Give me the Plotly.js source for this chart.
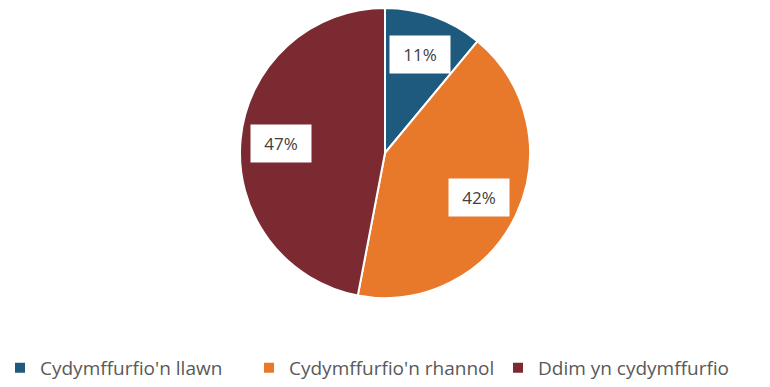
<!DOCTYPE html>
<html>
<head>
<meta charset="utf-8">
<script src="https://cdn.plot.ly/plotly-3.0.1.min.js"></script>
<style>html,body{margin:0;padding:0;background:#fff;}#chart{width:770px;height:387px;}</style>
</head>
<body>
<div id="chart"></div>
<script>
const categories = ["Cydymffurfio'n llawn", "Cydymffurfio'n rhannol", "Ddim yn cydymffurfio"];
const values = [11, 42, 47];
const labelTexts = ["11%", "42%", "47%"];
const colors = ["#1d5a7e", "#e8782a", "#7a2a30"];

const W = 770, H = 387;
const margin = {l: 0, r: 0, t: 8, b: 0};
const pieHeight = 290;
const plotH = H - margin.t - margin.b;
const domainY0 = (plotH - pieHeight) / plotH;

// Pie geometry in pixels (derived from layout) for label placement
const cx = W / 2;
const cy = margin.t + pieHeight / 2;
const R = pieHeight / 2;
const total = values.reduce((a, b) => a + b, 0);
const labelR = 0.72;
let cum = 0;
const annotations = values.map((v, i) => {
  const mid = (cum + v / 2) / total * 2 * Math.PI;
  cum += v;
  const px = cx + Math.sin(mid) * R * labelR;
  const py = cy - Math.cos(mid) * R * labelR;
  return {
    x: px / W,
    y: (H - margin.b - py) / plotH,
    xref: 'paper', yref: 'paper',
    xanchor: 'center', yanchor: 'middle',
    text: labelTexts[i],
    showarrow: false,
    bgcolor: '#ffffff',
    width: 50, height: 27,
    borderpad: 5,
    font: {family: 'Open Sans, sans-serif', size: 17, color: '#404040'}
  };
});

const trace = {
  type: 'pie',
  labels: categories,
  values: values,
  sort: false,
  direction: 'clockwise',
  rotation: 0,
  marker: {colors: colors, line: {color: '#ffffff', width: 2}},
  textinfo: 'none',
  hoverinfo: 'label+percent',
  domain: {x: [0, 1], y: [domainY0, 1]}
};

const layout = {
  width: W, height: H,
  margin: margin,
  paper_bgcolor: '#ffffff',
  showlegend: true,
  legend: {
    orientation: 'h',
    x: 0.48, xanchor: 'center',
    y: 0, yanchor: 'bottom',
    entrywidth: 204,
    font: {family: 'Open Sans, sans-serif', size: 19, color: '#595959'},
    traceorder: 'normal'
  },
  annotations: annotations
};

Plotly.newPlot('chart', [trace], layout, {displayModeBar: false, staticPlot: true});
</script>
</body>
</html>
